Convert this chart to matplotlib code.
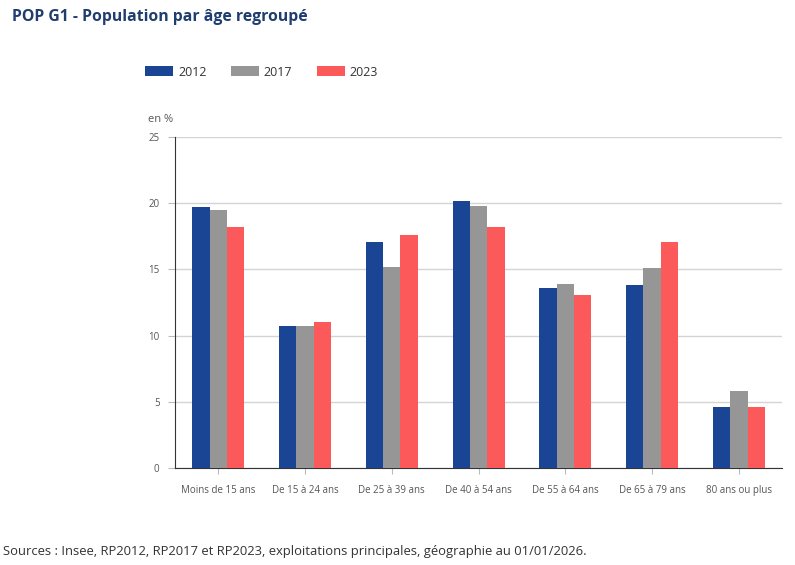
import numpy as np
import matplotlib.pyplot as plt

plt.rcParams['font.family'] = ['Open Sans', 'DejaVu Sans']

categories = ['Moins de 15 ans', 'De 15 à 24 ans', 'De 25 à 39 ans', 'De 40 à 54 ans',
              'De 55 à 64 ans', 'De 65 à 79 ans', '80 ans ou plus']
pop_2012 = [19.7, 10.7, 17.1, 20.2, 13.6, 13.8, 4.6]
pop_2017 = [19.5, 10.7, 15.2, 19.8, 13.9, 15.1, 5.8]
pop_2023 = [18.2, 11.0, 17.6, 18.2, 13.1, 17.1, 4.6]
years = ['2012', '2017', '2023']
colors = ['#1a4494', '#969696', '#fc5a5a']

fig = plt.figure(figsize=(7.95, 5.65), dpi=100)
fig.patch.set_facecolor('white')
ax = fig.add_axes([0.220, 0.1717, 0.764, 0.5858])

x = np.arange(len(categories))
w = 0.2
series = [pop_2012, pop_2017, pop_2023]
for i, (vals, c, lab) in enumerate(zip(series, colors, years)):
    ax.bar(x + (i - 1) * w, vals, width=w, color=c, label=lab, zorder=3)

ax.set_xlim(-0.5, len(categories) - 0.5)
ax.set_ylim(0, 25)
ax.set_yticks([0, 5, 10, 15, 20, 25])
ax.yaxis.grid(True, color='#d4d4d4', linewidth=1, zorder=0)
ax.set_xticks(x)
ax.set_xticklabels(categories, fontsize=7, color='#555555')
ax.tick_params(axis='y', labelsize=7, colors='#555555', length=5, width=0.8, color='#bbbbbb', pad=6)
ax.tick_params(axis='x', length=4, width=0.8, color='#bbbbbb', pad=8)
for s in ['top', 'right']:
    ax.spines[s].set_visible(False)
ax.spines['left'].set_color('#333333')
ax.spines['bottom'].set_color('#333333')

fig.text(148 / 795, 1 - 119 / 565, 'en %', fontsize=8, color='#555555', va='center')

fig.legend(loc='center left', bbox_to_anchor=(145 / 795, 1 - 72 / 565), ncol=3, frameon=False,
           fontsize=9, handlelength=2.24, handleheight=0.8, columnspacing=1.95, handletextpad=0.4,
           borderpad=0, borderaxespad=0, labelcolor='#333333')

fig.text(12 / 795, 1 - 17 / 565, 'POP G1 - Population par âge regroupé', fontsize=11.3,
         fontweight='bold', color='#1f3d6e', va='center')
fig.text(3 / 795, 1 - 551 / 565,
         'Sources : Insee, RP2012, RP2017 et RP2023, exploitations principales, géographie au 01/01/2026.',
         fontsize=9.4, color='#333333', va='center')

fig.savefig('out.png', dpi=100)
